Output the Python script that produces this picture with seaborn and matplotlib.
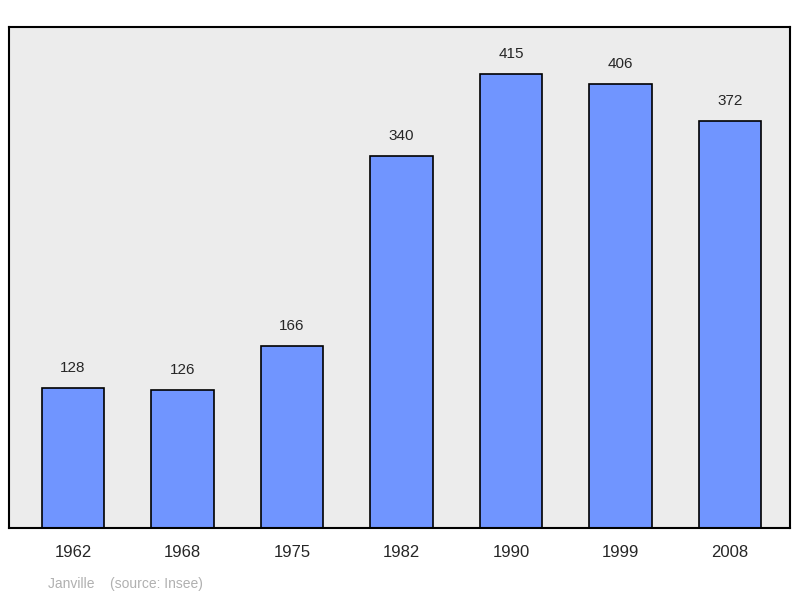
import matplotlib
matplotlib.use("Agg")
import matplotlib.pyplot as plt
import seaborn as sns
import pandas as pd

years = ["1962", "1968", "1975", "1982", "1990", "1999", "2008"]
population = [128, 126, 166, 340, 415, 406, 372]

df = pd.DataFrame({"year": years, "pop": population})

sns.set_style("white")
plt.rcParams["font.family"] = ["Liberation Sans", "DejaVu Sans"]

fig = plt.figure(figsize=(8, 5.98), dpi=100)
ax = fig.add_axes([0.01125, 0.117, 0.97625, 0.838])
ax.set_facecolor("#ececec")

sns.barplot(data=df, x="year", y="pop", color="#7095ff", width=0.57,
            edgecolor="black", linewidth=1.2, saturation=1, ax=ax)

for i, v in enumerate(population):
    ax.text(i, v + 12, str(v), ha="center", va="bottom", fontsize=11)

ax.set_xlim(-0.585, 6.55)
ax.set_ylim(0, 458)
ax.set_yticks([])
ax.set_xlabel("")
ax.set_ylabel("")
ax.tick_params(axis="x", length=0, labelsize=12, pad=12)
for s in ax.spines.values():
    s.set_linewidth(1.5)
    s.set_color("black")

fig.text(48 / 800, 1 - 584 / 598, "Janville    (source: Insee)", color="#b0b0b0",
         fontsize=10, va="center")

fig.savefig("out.png", dpi=100)
